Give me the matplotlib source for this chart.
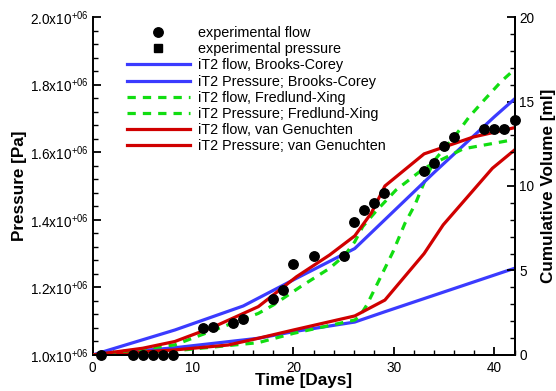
import numpy as np
import matplotlib
matplotlib.use('Agg')
import matplotlib.pyplot as plt
from matplotlib.ticker import MultipleLocator, FuncFormatter

plt.rcParams['font.family'] = ['Liberation Sans', 'DejaVu Sans']
plt.rcParams['mathtext.fontset'] = 'custom'
plt.rcParams['mathtext.rm'] = 'Liberation Sans'
plt.rcParams['mathtext.it'] = 'Liberation Sans:italic'
plt.rcParams['mathtext.bf'] = 'Liberation Sans:bold'

# dados experimentais (vazao acumulada, ml)
dias_exp = [0.8, 4, 5, 6, 7, 8, 11, 12, 14, 15, 18, 19, 20, 22, 25, 26, 27, 28, 29,
            33, 34, 35, 36, 39, 40, 41, 42]
vol_exp = [0, 0, 0, 0, 0, 0, 1.58, 1.64, 1.87, 2.13, 3.3, 3.85, 5.37, 5.86, 5.86, 7.85,
           8.58, 8.98, 9.57, 10.89, 11.38, 12.38, 12.88, 13.35, 13.4, 13.4, 13.9]
dias_pexp = []
p_exp = []

# iT2 flow (ml)
t_bc_flow = [0, 8.2, 15, 20.3, 26.1, 34, 40, 42]
v_bc_flow = [0, 1.48, 2.9, 4.54, 6.3, 10.8, 14.1, 15.15]
t_fx_flow = [0, 5, 8.2, 16.5, 18, 20.8, 23.6, 25.1, 26.1, 26.9, 28.2, 30.2, 33, 36.9, 42]
v_fx_flow = [0, 0.35, 0.6, 2.46, 2.96, 4.08, 5.13, 5.9, 6.7, 7.6, 8.5, 9.76, 11.05, 12.2, 12.75]
t_vg_flow = [0, 5, 8.2, 12, 16.5, 20.3, 23.6, 26.1, 27.75, 29.1, 33, 37.9, 42]
v_vg_flow = [0, 0.4, 0.8, 1.65, 2.86, 4.63, 5.92, 7.05, 8.4, 10.0, 11.9, 12.9, 13.45]

# iT2 pressure (Pa)
t_bc_p = [0, 8.2, 16.5, 20, 26.1, 29.1, 42]
p_bc = [1.0e6, 1.0215e6, 1.0495e6, 1.069e6, 1.0975e6, 1.128e6, 1.2565e6]
t_fx_p = [0, 8.2, 16.5, 20, 26.1, 26.6, 27.3, 28.2, 29.1, 29.9, 31.1, 32.1, 33, 34, 35,
          36, 37.5, 39, 40.7, 42]
p_fx = [1.0e6, 1.0125e6, 1.0365e6, 1.064e6, 1.1035e6, 1.115e6, 1.148e6, 1.202e6, 1.2565e6,
        1.305e6, 1.39e6, 1.445e6, 1.51e6, 1.575e6, 1.61e6, 1.645e6, 1.705e6, 1.755e6,
        1.81e6, 1.845e6]
t_vg_p = [0, 8.2, 13.5, 16.5, 20, 26.1, 29.1, 33, 34.9, 39.8, 42]
p_vg = [1.0e6, 1.015e6, 1.0295e6, 1.0495e6, 1.074e6, 1.1155e6, 1.1625e6, 1.3e6, 1.385e6,
        1.5525e6, 1.6065e6]

azul = '#3b3bff'
verde = '#11dd11'
vermelho = '#d00000'
lw = 2.3
tracos = (2.6, 2.2)

fig = plt.figure(figsize=(5.56, 3.91), dpi=100)
ax = fig.add_axes([0.1664, 0.0921, 0.7590, 0.8644])
ax2 = ax.twinx()

l_bc_p, = ax.plot(t_bc_p, p_bc, color=azul, lw=lw)
l_fx_p, = ax.plot(t_fx_p, p_fx, color=verde, lw=lw, dashes=tracos)
l_vg_p, = ax.plot(t_vg_p, p_vg, color=vermelho, lw=lw)

l_bc_f, = ax2.plot(t_bc_flow, v_bc_flow, color=azul, lw=lw)
l_fx_f, = ax2.plot(t_fx_flow, v_fx_flow, color=verde, lw=lw, dashes=tracos)
l_vg_f, = ax2.plot(t_vg_flow, v_vg_flow, color=vermelho, lw=lw)
pts, = ax2.plot(dias_exp, vol_exp, 'o', color='black', ms=6.8, zorder=5, clip_on=False)
pts_p, = ax2.plot(dias_pexp, p_exp, 's', color='black', ms=6)

ax.set_xlim(0, 42)
ax.set_ylim(1.0e6, 2.0e6)
ax2.set_ylim(0, 20)

ax.xaxis.set_major_locator(MultipleLocator(10))
ax.xaxis.set_minor_locator(MultipleLocator(2))
ax.yaxis.set_major_locator(MultipleLocator(0.2e6))
ax.yaxis.set_minor_locator(MultipleLocator(0.04e6))
ax2.yaxis.set_major_locator(MultipleLocator(5))
ax2.yaxis.set_minor_locator(MultipleLocator(1))

def fmt_p(v, pos):
    return '%.1fx10$^{+06}$' % (v / 1e6)
ax.yaxis.set_major_formatter(FuncFormatter(fmt_p))

for a in (ax, ax2):
    a.spines['top'].set_visible(False)
    for s in a.spines.values():
        s.set_linewidth(1.4)
    a.tick_params(which='major', direction='in', length=6, width=1.3, labelsize=9.8)
    a.tick_params(which='minor', direction='in', length=3.5, width=1.0)
ax2.spines['left'].set_visible(False)
ax.tick_params(axis='x', pad=4)
ax.tick_params(axis='y', pad=3)

ax.set_xlabel('Time [Days]', fontsize=12.3, fontweight='bold', labelpad=-1)
ax.set_ylabel('Pressure [Pa]', fontsize=12.3, fontweight='bold', labelpad=2)
ax2.set_ylabel('Cumulative Volume [ml]', fontsize=12.3, fontweight='bold', labelpad=5)

handles = [pts, pts_p, l_bc_f, l_bc_p, l_fx_f, l_fx_p, l_vg_f, l_vg_p]
labels = ['experimental flow', 'experimental pressure', 'iT2 flow, Brooks-Corey',
          'iT2 Pressure; Brooks-Corey', 'iT2 flow, Fredlund-Xing',
          'iT2 Pressure; Fredlund-Xing', 'iT2 flow, van Genuchten',
          'iT2 Pressure; van Genuchten']
ax2.legend(handles, labels, loc='upper left', bbox_to_anchor=(0.069, 0.99), frameon=False,
           fontsize=10.4, handlelength=4.3, handletextpad=0.6, labelspacing=0.15,
           borderaxespad=0)

fig.savefig('out.png', dpi=100)
